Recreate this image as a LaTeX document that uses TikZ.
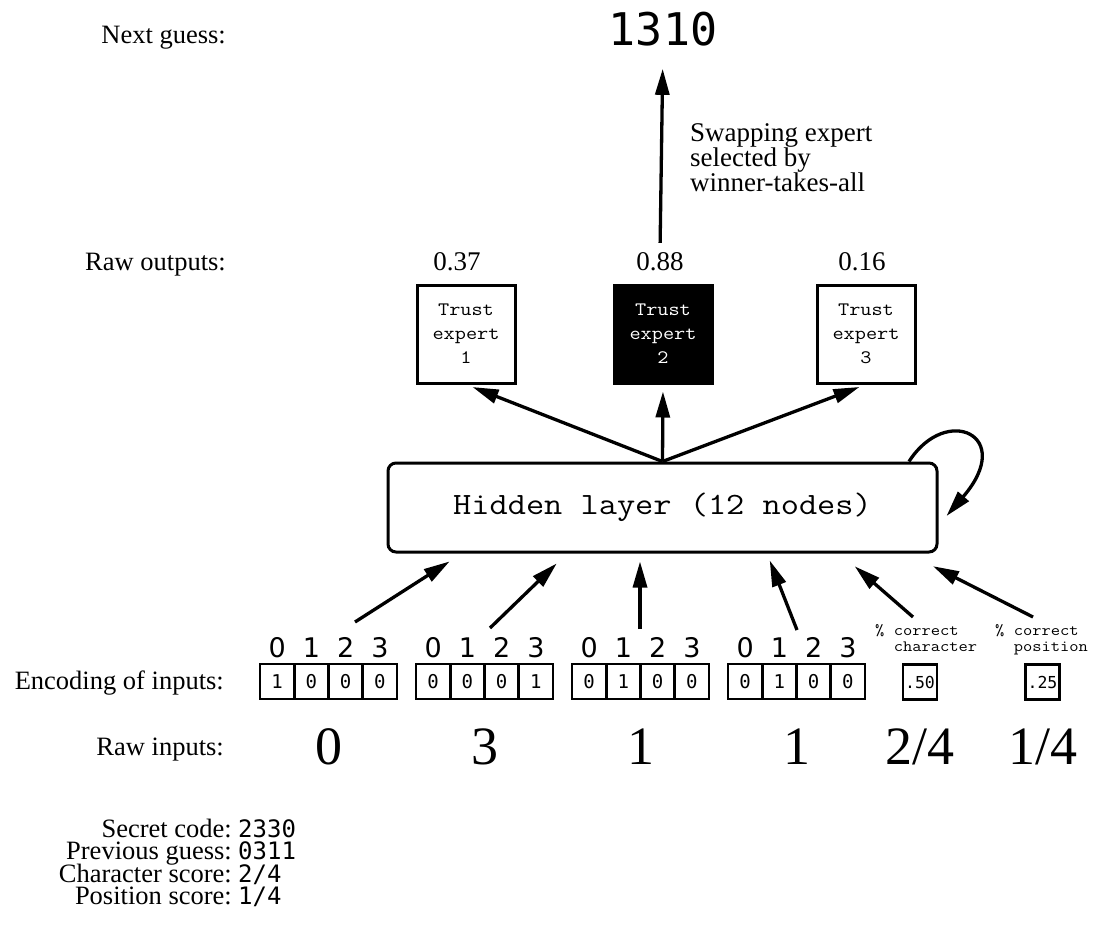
\documentclass[tikz,border=0pt]{standalone}
\usepackage{fontspec}
\setmainfont{Liberation Serif}
\setmonofont[FakeStretch=1.14]{Latin Modern Mono}
\newfontfamily\codefont{DejaVu Sans Mono}
\newfontfamily\tickfont{DejaVu Sans}
\usetikzlibrary{arrows.meta,positioning,calc}
\tikzset{
  rowlabel/.style={anchor=base east, inner sep=0pt, font=\fontsize{26.5}{26.5}\selectfont},
  rowvalue/.style={anchor=base west, inner sep=0pt, font=\fontsize{24}{24}\codefont},
  expert/.style={draw, line width=3pt, minimum size=98pt, inner sep=0pt,
                 align=center, font=\fontsize{19}{24}\selectfont\ttfamily},
  hidden/.style={draw, line width=3pt, rounded corners=8pt, minimum width=549pt,
                 minimum height=89pt, font=\fontsize{31}{31}\selectfont\ttfamily},
  cell/.style={draw, line width=2.7pt, minimum width=34.25pt, minimum height=35pt,
               inner sep=0pt, font=\fontsize{19}{19}\codefont},
  tick/.style={anchor=base, inner sep=0pt, font=\fontsize{27}{27}\tickfont},
  rawin/.style={anchor=base, inner sep=0pt, font=\fontsize{54}{54}\selectfont},
  pct/.style={anchor=north west, inner sep=0pt, align=left,
              font=\fontsize{15.8}{16}\selectfont\ttfamily},
  link/.style={-{Triangle[length=26pt,width=14pt]}, line width=3.3pt}
}

\begin{document}
\begin{tikzpicture}[x=1pt, y=-1pt]
  \useasboundingbox (0,0) rectangle (1097,943);

  % row labels
  \node[rowlabel] (lguess) at (226,43) {Next guess:};
  \node[rowlabel] (lout) at (226,270) {Raw outputs:};
  \node[rowlabel] (lenc) at (224,689) {Encoding of inputs:};
  \node[rowlabel] (lin) at (224,755) {Raw inputs:};

  % output side
  \node[anchor=base, inner sep=0pt, font=\fontsize{45}{45}\codefont] (guess) at (663,45) {1310};
  \node[anchor=north west, inner sep=0pt, align=left,
        font=\fontsize{27}{25}\selectfont] (wta) at (690,123)
        {Swapping expert\\selected by\\winner-takes-all};

  \node[expert] (e1) at (466,334) {Trust\\expert\\1};
  \node[expert, fill=black, text=white] (e2) at (663,334) {Trust\\expert\\2};
  \node[expert] (e3) at (866,334) {Trust\\expert\\3};
  \foreach \n/\x/\v in {o1/457/0.37, o2/660/0.88, o3/862/0.16}
    \node[anchor=base, inner sep=0pt, font=\fontsize{27}{27}\selectfont] (\n) at (\x,270) {\v};

  \node[hidden] (hid) at (662.5,507.5) {Hidden layer (12 nodes)};

  % encoded inputs
  \foreach \g/\raw/\bits in {1/0/{1,0,0,0}, 2/3/{0,0,0,1}, 3/1/{0,1,0,0}, 4/1/{0,1,0,0}} {
    \foreach \b [count=\i from 0] in \bits {
      \node[cell] (c\g-\i) at ({260+156*(\g-1)+17.125+34.25*\i},681.5) {\b};
      \node[tick] (k\g-\i) at ({260+156*(\g-1)+17.125+34.25*\i},657) {\i};
    }
    \node[rawin] (r\g) at ({260+156*(\g-1)+68.5},764) {\raw};
  }
  \node[pct] (pc) at (875,624) {\% correct\\\hphantom{\% }character};
  \node[pct] (pp) at (995,624) {\% correct\\\hphantom{\% }position};
  \node[cell, font=\fontsize{16.5}{16.5}\codefont] (v1) at (920,682) {.50};
  \node[cell, font=\fontsize{16.5}{16.5}\codefont] (v2) at (1042.5,682) {.25};
  \node[rawin] (r5) at (920,764) {2/4};
  \node[rawin] (r6) at (1042.5,764) {1/4};

  % summary
  \foreach \y/\l/\v in {837/Secret code:/2330, 859.5/Previous guess:/0311,
                        882/Character score:/{2/4}, 904.5/Position score:/{1/4}} {
    \node[rowlabel] at (232,\y) {\l};
    \node[rowvalue] at (238,\y) {\v};
  }

  % connectors
  \coordinate (a1) at (355,622);
  \coordinate (a2) at (490,628);
  \coordinate (a3) at (640,629);
  \coordinate (a4) at (797,630);
  \coordinate (a5) at (913,617);
  \coordinate (a6) at (1033,617);
  \foreach \t/\dx/\s in {a1/-200.5/14.7, a2/-95.5/14.3, a3/-22.5/8, a4/104.5/7.5,
                         a5/177.5/19.5, a6/245.5/28}
    \draw[link, shorten >=\s pt] (\t) -- ([xshift=\dx pt]hid.south);
  \foreach \e in {e1,e2,e3}
    \draw[link, shorten >=7pt] (hid.north) -- (\e.south);
  \draw[link, shorten <=9pt, shorten >=23pt] (o2.north) -- (guess.south);
  \draw[link] ([xshift=-29.5pt]hid.north east) .. controls +(37,-58) and +(70,-81)
    .. ($(hid.east)+(8,8.5)$);
\end{tikzpicture}
\end{document}
